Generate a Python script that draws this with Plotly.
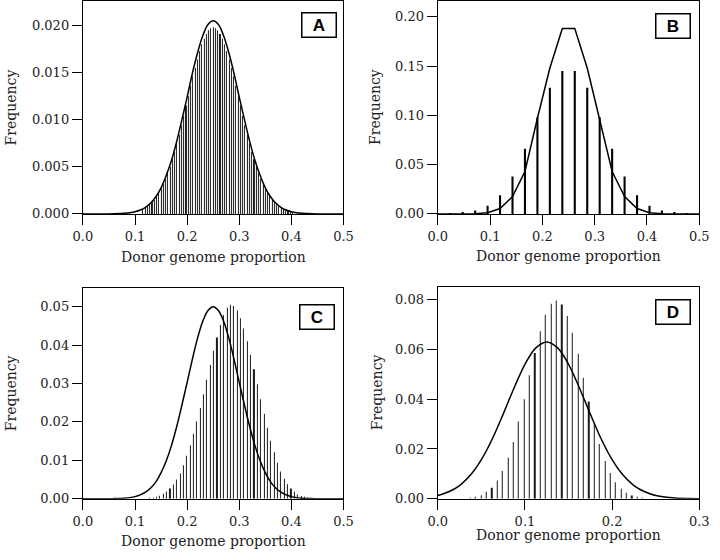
import plotly.graph_objects as go

# ── Panel A: many thin bars + normal curve ────────────────────────────────
a_bar_x0, a_bar_dx = 0.115, 0.00435
a_bar_y = [0.0005, 0.0007, 0.0008, 0.0010, 0.0013, 0.0015, 0.0019, 0.0022, 0.0027, 0.0032,
           0.0037, 0.0044, 0.0050, 0.0058, 0.0066, 0.0075, 0.0084, 0.0094, 0.0104, 0.0115,
           0.0125, 0.0136, 0.0146, 0.0155, 0.0164, 0.0173, 0.0180, 0.0186, 0.0191, 0.0195,
           0.0197, 0.0198, 0.0197, 0.0195, 0.0191, 0.0186, 0.0180, 0.0173, 0.0164, 0.0155,
           0.0146, 0.0136, 0.0125, 0.0115, 0.0104, 0.0094, 0.0084, 0.0075, 0.0066, 0.0058,
           0.0050, 0.0044, 0.0037, 0.0032, 0.0027, 0.0022, 0.0019, 0.0015, 0.0013, 0.0010,
           0.0008, 0.0007, 0.0005, 0.0004, 0.0003, 0.0003, 0.0002]
a_curve_x0, a_curve_dx = 0.0, 0.01
a_curve_y = [0, 0, 0, 0, 0, 0, 0.00001, 0.00003, 0.00006, 0.00012,
             0.00023, 0.00041, 0.00070, 0.00115, 0.00182, 0.00277, 0.0041, 0.0057, 0.0077, 0.0100,
             0.0124, 0.0149, 0.0171, 0.0189, 0.0201, 0.0205, 0.0201, 0.0189, 0.0171, 0.0149,
             0.0124, 0.0100, 0.0077, 0.0057, 0.0041, 0.00277, 0.00182, 0.00115, 0.00070, 0.00041,
             0.00023, 0.00012, 0.00006, 0.00003, 0.00001, 0, 0, 0, 0, 0, 0]

# ── Panel B: discrete proportions k/42 ────────────────────────────────────
b_bar_x0, b_bar_dx = 0.02381, 0.02381
b_bar_y = [0.0008, 0.0012, 0.0035, 0.0083, 0.019, 0.038, 0.066, 0.098, 0.128, 0.145,
           0.145, 0.128, 0.098, 0.066, 0.038, 0.019, 0.0083, 0.0035, 0.0012, 0.0008]
b_curve_x0, b_curve_dx = 0.0, 0.02381
b_curve_y = [0, 0, 0, 0.0002, 0.0012, 0.0055, 0.0175, 0.043, 0.097, 0.148, 0.188,
             0.188, 0.148, 0.097, 0.043, 0.0175, 0.0055, 0.0012, 0.0002, 0, 0, 0]

# ── Panel C: shifted distribution vs expected curve ───────────────────────
c_bar_x0, c_bar_dx = 0.1282, 0.00645
c_bar_y = [0.0001, 0.0002, 0.0004, 0.0008, 0.0013, 0.0019, 0.0027, 0.0037, 0.0050, 0.0066,
           0.0087, 0.0112, 0.0139, 0.0169, 0.0201, 0.0236, 0.0272, 0.0310, 0.0348, 0.0385,
           0.0420, 0.0452, 0.0478, 0.0497, 0.0505, 0.0502, 0.0490, 0.0470, 0.0443, 0.0410,
           0.0375, 0.0337, 0.0298, 0.0259, 0.0221, 0.0185, 0.0151, 0.0121, 0.0094, 0.0071,
           0.0052, 0.0038, 0.0027, 0.0018, 0.0011, 0.0007, 0.0004, 0.0002]
c_curve_x0, c_curve_dx = 0.0, 0.01
c_curve_y = [0, 0, 0, 0, 0, 0, 0.00004, 0.00008, 0.00015, 0.0003,
             0.00056, 0.0010, 0.0017, 0.0028, 0.0044, 0.0068, 0.0099, 0.0139, 0.0188, 0.0244,
             0.0303, 0.0363, 0.0418, 0.0462, 0.0490, 0.0500, 0.0490, 0.0462, 0.0418, 0.0363,
             0.0303, 0.0244, 0.0188, 0.0139, 0.0099, 0.0068, 0.0044, 0.0028, 0.0017, 0.0010,
             0.00056, 0.0003, 0.00015, 0.00008, 0.00004, 0, 0, 0, 0, 0, 0]

# ── Panel D: x range 0–0.3 ────────────────────────────────────────────────
d_bar_x0, d_bar_dx = 0.0372, 0.00618
d_bar_y = [0.0003, 0.0007, 0.0014, 0.0028, 0.0044, 0.0073, 0.0112, 0.0165, 0.0228, 0.0310,
           0.0400, 0.0496, 0.0585, 0.0673, 0.0739, 0.0783, 0.0796, 0.0780, 0.0734, 0.0667,
           0.0582, 0.0486, 0.0391, 0.0299, 0.0220, 0.0152, 0.0103, 0.0066, 0.0040, 0.0024,
           0.0013, 0.0007, 0.0003]
d_curve_x0, d_curve_dx = 0.0, 0.0125
d_curve_y = [0.0013, 0.0028, 0.0053, 0.0095, 0.0157, 0.0240, 0.0340, 0.0445, 0.0540, 0.0606,
             0.0630, 0.0606, 0.0540, 0.0445, 0.0340, 0.0240, 0.0157, 0.0095, 0.0053, 0.0028,
             0.0013, 0.0006, 0.0002, 0.0001, 0.0000]

SERIF = "DejaVu Serif"
W, H = 720, 560

# panel boxes in pixels: (left, right, top, bottom)
# thin bars get a tiny width: plotly snaps sub-2px bars to whole pixels (1px lines)
PANELS = {
    "A": dict(box=(75, 343, 1, 217), xr=[0, 0.5], yr=[0, 0.0226], ydt=0.005, yfmt=".3f",
              bar=(a_bar_x0, a_bar_dx, a_bar_y, 0.0002, "#1a1a1a"),
              curve=(a_curve_x0, a_curve_dx, a_curve_y, "spline"),
              tag=(317.5, 25.5), xt=261, ytx=1),
    "B": dict(box=(440, 709, 1, 217), xr=[0, 0.5], yr=[0, 0.216], ydt=0.05, yfmt=".2f",
              bar=(b_bar_x0, b_bar_dx, b_bar_y, 0.0040, "#000000"),
              curve=(b_curve_x0, b_curve_dx, b_curve_y, "linear"),
              tag=(682, 26.5), xt=260, ytx=376),
    "C": dict(box=(75, 343, 292, 506), xr=[0, 0.5], yr=[0, 0.0549], ydt=0.01, yfmt=".2f",
              bar=(c_bar_x0, c_bar_dx, c_bar_y, 0.0002, "#1a1a1a"),
              curve=(c_curve_x0, c_curve_dx, c_curve_y, "spline"),
              tag=(316, 321.7), xt=549, ytx=1),
    "D": dict(box=(440, 709, 291, 506), xr=[0, 0.3], yr=[0, 0.0851], ydt=0.02, yfmt=".2f",
              bar=(d_bar_x0, d_bar_dx, d_bar_y, 0.0002, "#1a1a1a"),
              curve=(d_curve_x0, d_curve_dx, d_curve_y, "spline"),
              tag=(681.5, 316.5), xt=543, ytx=377),
}

fig = go.Figure()
annotations = []
layout = {}

for i, (tag, p) in enumerate(PANELS.items(), start=1):
    sx = "" if i == 1 else str(i)
    l, r, t, b = p["box"]
    bx0, bdx, by, bw, bc = p["bar"]
    cx0, cdx, cy, shape = p["curve"]

    fig.add_trace(go.Bar(
        x0=bx0, dx=bdx, y=by, width=bw,
        marker=dict(color=bc, line=dict(width=0)),
        xaxis="x" + sx, yaxis="y" + sx, showlegend=False, hoverinfo="skip",
    ))
    fig.add_trace(go.Scatter(
        x0=cx0, dx=cdx, y=cy, mode="lines",
        line=dict(color="black", width=1.5, shape=shape, smoothing=1),
        xaxis="x" + sx, yaxis="y" + sx, showlegend=False, hoverinfo="skip",
    ))

    axis_common = dict(
        showgrid=False, zeroline=False, showline=True, linecolor="black", linewidth=1.3,
        mirror=True, ticks="outside", ticklen=10, tickwidth=1.2, tickcolor="black",
        tickfont=dict(family=SERIF, size=13, color="#222"),
    )
    layout["xaxis" + sx] = dict(
        axis_common, domain=[l / W, r / W], range=p["xr"], dtick=0.1, tick0=0,
        tickformat=".1f", anchor="y" + sx,
    )
    layout["yaxis" + sx] = dict(
        axis_common, domain=[(H - b) / H, (H - t) / H], range=p["yr"], dtick=p["ydt"],
        tick0=0, tickformat=p["yfmt"], anchor="x" + sx,
    )

    # axis titles
    annotations.append(dict(
        text="Donor genome proportion", xref="paper", yref="paper",
        x=(l + r) / 2 / W, y=(H - p["xt"]) / H, showarrow=False,
        font=dict(family=SERIF, size=14, color="#222"), xanchor="center", yanchor="middle",
    ))
    annotations.append(dict(
        text="Frequency", xref="paper", yref="paper", textangle=-90,
        x=p["ytx"] / W, y=(H - (t + b) / 2) / H, showarrow=False,
        font=dict(family=SERIF, size=14, color="#222"), xanchor="center", yanchor="middle",
    ))
    # boxed panel letter
    tx, ty = p["tag"]
    annotations.append(dict(
        text="<b>" + tag + "</b>", xref="paper", yref="paper",
        x=tx / W, y=(H - ty) / H, showarrow=False, xanchor="center", yanchor="middle",
        font=dict(family="Liberation Sans", size=17, color="black"),
        bordercolor="black", borderwidth=1.5, borderpad=1, width=31, height=21,
        bgcolor="white",
    ))

fig.update_layout(
    width=W, height=H,
    margin=dict(l=0, r=0, t=0, b=0),
    paper_bgcolor="white", plot_bgcolor="white",
    barmode="overlay",
    annotations=annotations,
    **layout,
)

# page body has a default 8px margin; drop it so the figure sits at the window origin
fig.write_html(
    "out.html",
    config={"displayModeBar": False},
    post_script="document.body.style.margin='0';",
)
